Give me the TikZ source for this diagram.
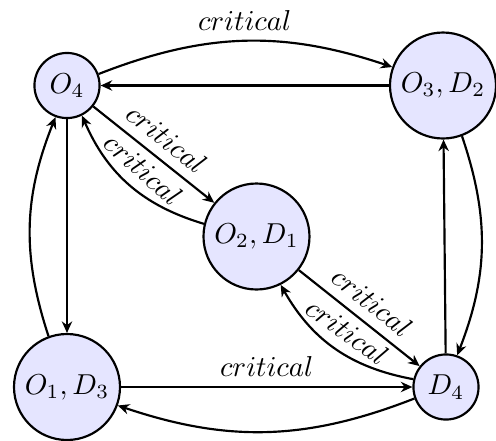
\documentclass[tikz,border=0pt]{standalone}
\usetikzlibrary{arrows.meta}
\begin{document}
\begin{tikzpicture}[x=0.3472pt,y=0.3472pt,
  state/.style={circle,draw,fill=blue!10,line width=0.75pt,inner sep=0pt},
  smallstate/.style={state,minimum size=22.6pt},
  bigstate/.style={state,minimum size=36.8pt},
  edge/.style={line width=0.75pt,-{Stealth[length=4pt,width=3.6pt,inset=1.3pt]}}]
\useasboundingbox (0,0) rectangle (496,-440);

% states
\node[smallstate] (O4) at (67,-85.5)    {$O_4$};
\node[bigstate]   (O3) at (443,-85.5)   {$O_3, D_2$};
\node[bigstate]   (O2) at (256.5,-236.5){$O_2, D_1$};
\node[bigstate]   (O1) at (67,-387)     {$O_1, D_3$};
\node[smallstate] (D4) at (446,-387)    {$D_4$};

% outer square
\draw[edge] (O4) to[bend left=20] node[above] {$critical$} (O3);
\draw[edge] (O3) -- (O4);
\draw[edge] (O3) to[bend left=20] (D4);
\draw[edge] (D4) -- (O3);
\draw[edge] (D4) to[bend left=20] (O1);
\draw[edge] (O1) -- node[above] {$critical$} (D4);
\draw[edge] (O1) to[bend left=20] (O4);
\draw[edge] (O4) -- (O1);

% diagonal through the centre
\draw[edge] (O4) -- node[above,sloped] {$critical$} (O2);
\draw[edge] (O2) to[bend left=25] node[above,sloped] {$critical$} (O4);
\draw[edge] (O2) -- node[above,sloped] {$critical$} (D4);
\draw[edge] (D4) to[bend left=25] node[above,sloped] {$critical$} (O2);
\end{tikzpicture}
\end{document}
